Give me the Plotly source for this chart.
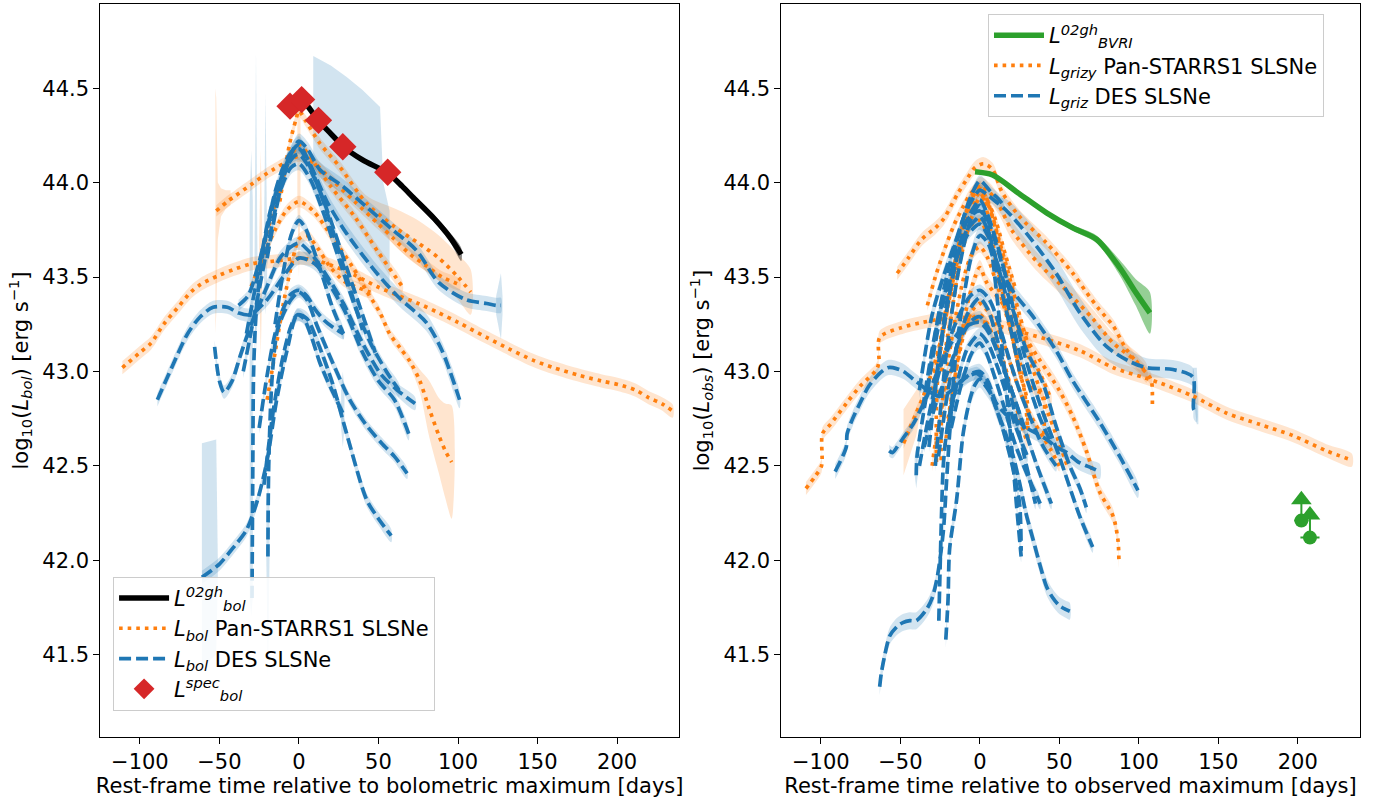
import plotly.graph_objects as go

# ---------------- data : left panel (bolometric) ----------------
x_tick_vals = [-100, -50, 0, 50, 100, 150, 200]
y_tick_vals = [41.5, 42.0, 42.5, 43.0, 43.5, 44.0, 44.5]

sn02gh_bol_t = [-7, 0, 5, 12, 20, 28, 40, 56, 65, 72, 85, 95, 102]
sn02gh_bol_y = [44.43, 44.44, 44.41, 44.33, 44.26, 44.19, 44.12, 44.05, 43.98, 43.92, 43.81, 43.71, 43.62]
sn02gh_bol_err = [0.01, 0.01, 0.01, 0.01, 0.01, 0.01, 0.01, 0.01, 0.012, 0.015, 0.02, 0.025, 0.035]

spec_t = [-5.6, 1.7, 12.3, 27.6, 55.8]
spec_y = [44.405, 44.44, 44.33, 44.19, 44.055]

ps1_bol_t = [
    [-111, -100, -93, -85, -76, -68, -62, -50, -41, -30, -20, -10, 0, 10, 21, 35, 49, 63, 75, 88, 100, 118, 132, 147, 160, 176, 190, 201, 212, 220, 228, 235],
    [-52, -45, -40, -30, -20, -16, -8, 0, 10, 20, 35, 50, 60, 70, 80, 90, 101],
    [-12, -6, -2, 0, 4, 13, 26, 42.6, 61, 75, 88, 100, 108],
    [-30, -22, -15, -8, 0, 9, 21, 34, 43, 51, 57, 64, 70, 76, 82, 88, 92, 96],
    [-25, -18, -12, -6, 0, 6, 10, 20, 35, 50, 65],
    [-20, -15, -10, -5, 0, 5, 12, 20, 28, 35, 45],
]
ps1_bol_y = [
    [43.02, 43.1, 43.15, 43.25, 43.34, 43.42, 43.46, 43.51, 43.54, 43.57, 43.58, 43.59, 43.6, 43.59, 43.56, 43.51, 43.45, 43.4, 43.36, 43.31, 43.26, 43.18, 43.12, 43.06, 43.02, 42.98, 42.95, 42.93, 42.9, 42.86, 42.83, 42.79],
    [43.85, 43.9, 43.93, 43.99, 44.05, 44.07, 44.11, 44.14, 44.1, 44.02, 43.9, 43.78, 43.7, 43.62, 43.56, 43.5, 43.46],
    [43.9, 44.2, 44.33, 44.38, 44.33, 44.21, 44.08, 43.89, 43.76, 43.68, 43.6, 43.5, 43.42],
    [43.45, 43.62, 43.75, 43.85, 43.9, 43.85, 43.71, 43.55, 43.42, 43.31, 43.2, 43.12, 43.05, 42.95, 42.8, 42.66, 42.58, 42.52],
    [43.55, 43.8, 43.97, 44.12, 44.2, 44.15, 44.1, 43.98, 43.82, 43.63, 43.45],
    [42.85, 43.1, 43.35, 43.55, 43.7, 43.72, 43.65, 43.55, 43.48, 43.45, 43.42],
]
ps1_bol_err = [
    0.035,
    0.03,
    [0.03, 0.03, 0.03, 0.03, 0.03, 0.03, 0.03, 0.04, 0.1, 0.12, 0.12, 0.12, 0.12],
    [0.03, 0.03, 0.03, 0.03, 0.03, 0.03, 0.03, 0.03, 0.03, 0.03, 0.03, 0.03, 0.03, 0.06, 0.15, 0.2, 0.25, 0.3],
    0.03,
    0.03,
]
ps1_bol_xb_t = [[-52.5, -52, -51, -49, -46, -43], [-25, -24, -23], [-1, 0, 1]]
ps1_bol_xb_lo = [[43.2, 43.3, 43.7, 43.82, 43.86, 43.88], [43.5, 43.08, 43.5], [43.9, 43.5, 43.9]]
ps1_bol_xb_hi = [[44.5, 44.45, 44.0, 43.97, 43.96, 43.96], [43.7, 44.17, 43.7], [44.35, 44.47, 44.35]]

des_bol_t = [
    [-89, -80, -70, -62, -54, -45, -38, -31, -20, -10, 0, 10, 20, 30, 40, 50, 60, 69],
    [-53, -50, -47, -42, -37, -30, -20, -12, -5, 0, 8, 18, 28, 40, 52, 62, 73],
    [-33, -25, -18, -10, -4, 0, 8, 17.6, 30, 49, 63, 80, 90, 101],
    [-20, -12, -5, 0, 6, 13, 27.6, 42.6, 59, 74, 88, 105, 118, 124, 127],
    [-61, -50, -41, -33, -26, -20, -14, -7.5, -1, 5, 12, 21, 30, 42.6, 50, 58],
    [-19.5, -19, -17, -14, -10, -5, 0, 5, 11, 21, 32, 42, 52, 60, 68],
    [-29.5, -29, -28.5, -27, -24, -20, -15, -10, -5, 0, 5, 12, 20, 30, 40],
    [-25, -20, -15, -10, -5, 0, 5, 10, 16, 22, 28],
    [-15, -10, -5, -2, 0, 4, 9, 15, 21, 28],
    [-35, -28, -20, -12, -5, 0, 7, 15, 25, 35, 45, 55, 63],
    [-22, -16, -10, -5, -1, 3, 8, 13, 18, 23, 27.6],
    [-38, -32, -26, -20, -14, -8, -3, 0, 5, 12, 20, 30, 40, 48],
]
des_bol_y = [
    [42.85, 43.02, 43.2, 43.29, 43.34, 43.34, 43.31, 43.3, 43.38, 43.5, 43.6, 43.57, 43.45, 43.3, 43.1, 42.95, 42.85, 42.67],
    [43.13, 42.95, 42.89, 42.95, 43.08, 43.25, 43.45, 43.6, 43.66, 43.68, 43.62, 43.5, 43.36, 43.15, 42.98, 42.9, 42.83],
    [43.2, 43.55, 43.85, 44.05, 44.17, 44.2, 44.08, 43.9, 43.73, 43.52, 43.39, 43.26, 43.11, 42.85],
    [43.6, 43.95, 44.15, 44.22, 44.17, 44.07, 43.98, 43.87, 43.75, 43.64, 43.47, 43.38, 43.36, 43.35, 43.35],
    [41.91, 41.98, 42.07, 42.16, 42.32, 42.53, 42.85, 43.11, 43.3, 43.28, 43.15, 42.94, 42.67, 42.32, 42.22, 42.13],
    [42.02, 42.5, 42.95, 43.2, 43.3, 43.38, 43.42, 43.38, 43.25, 43.05, 42.85, 42.72, 42.62, 42.55, 42.46],
    [41.8, 42.5, 43.0, 43.3, 43.55, 43.75, 43.95, 44.08, 44.16, 44.18, 44.12, 43.98, 43.78, 43.5, 43.22],
    [42.7, 42.98, 43.2, 43.33, 43.41, 43.43, 43.4, 43.33, 43.27, 43.23, 43.2],
    [43.25, 43.52, 43.72, 43.78, 43.8, 43.76, 43.65, 43.5, 43.34, 43.2],
    [43.0, 43.3, 43.65, 43.95, 44.08, 44.1, 44.02, 43.85, 43.6, 43.35, 43.15, 43.0, 42.9],
    [42.4, 42.8, 43.08, 43.24, 43.3, 43.28, 43.18, 43.05, 42.95, 42.86, 42.78],
    [43.35, 43.4, 43.55, 43.75, 43.95, 44.08, 44.14, 44.15, 44.1, 43.98, 43.8, 43.55, 43.3, 43.1],
]
des_bol_err = [0.035, 0.035, 0.045, 0.04, 0.035, 0.03, 0.03, 0.03, 0.03, 0.035, 0.03, 0.03]
des_bol_xb_t = [[9, 20, 30, 40, 51, 53, 57], [-61, -56, -52, -51], [-28, -27, -26], [-22, -21, -20],
                [-20.5, -19.5, -18.5], [-31, -30, -29], [124, 127, 128], [26.5, 27.6, 28.6]]
des_bol_xb_lo = [[43.95, 43.85, 43.72, 43.6, 43.5, 43.47, 43.45], [41.45, 41.47, 41.5, 41.88], [43.3, 43.1, 43.3],
                 [43.5, 43.3, 43.5], [42.0, 41.37, 42.0], [41.8, 41.7, 41.8], [43.3, 43.17, 43.3], [42.7, 42.6, 42.7]]
des_bol_xb_hi = [[44.67, 44.62, 44.56, 44.49, 44.4, 44.0, 43.85], [42.62, 42.63, 42.64, 42.0], [43.5, 44.69, 43.5],
                 [43.7, 44.47, 43.7], [42.3, 42.4, 42.3], [43.9, 44.17, 43.9], [43.4, 43.52, 43.4], [42.9, 43.0, 42.9]]

# ---------------- data : right panel (observed) ----------------
sn02gh_bvri_t = [-3, 8, 25, 42, 58.5, 73.4, 88, 98, 107]
sn02gh_bvri_y = [44.057, 44.04, 43.94, 43.84, 43.76, 43.7, 43.55, 43.42, 43.31]
sn02gh_bvri_err = [0.01, 0.01, 0.01, 0.01, 0.015, 0.02, 0.04, 0.07, 0.11]

late_t = [202.3, 207.7]
late_y = [42.21, 42.12]
late_up = [0.11, 0.12]
late_xerr = [4.5, 6.0]

ps1_obs_t = [
    [-109.4, -104, -99.6, -99, -94, -84, -75.5, -65, -63.5, -63, -50, -36, -21, -2, 21, 42, 63, 84, 102.5, 113, 134, 155, 176, 197, 218, 234],
    [-52, -45, -36.5, -28, -22.6, -14, -8, -3, 2.5, 8, 14, 25, 42, 58.5, 67, 75, 84, 92, 100.6, 106, 108, 108.5],
    [-30, -22, -15, -8, 0, 6, 12, 20, 36, 52, 71, 84, 99, 105],
    [-22, -15, -8, -3, 0, 4.4, 17, 27, 37.7, 50, 58.5, 67, 75.5, 83, 85, 87, 87.5],
    [-27.3, -27, -24, -20, -15, -10, -5, 0, 5, 10, 15, 20, 25, 29.7, 30],
    [-24.3, -24, -20, -15, -10, -5, 0, 5, 10, 15, 20, 25, 30, 35, 39.7, 40],
    [-20, -15, -10, -5, 0, 5, 10, 15, 20, 25, 30, 35, 40, 45, 50],
    [-24, -18, -12, -5, 0, 4, 8, 12, 18, 25, 32, 40, 45],
    [-48, -44, -40, -35, -30, -25, -20, -15, -10, -5, 0, 5, 10, 15, 20, 30, 40, 50, 55],
    [-30, -28, -25, -20, -15, -10, -5, 0, 5, 10, 15, 20, 25, 30],
    [-18, -12, -6, 0, 3, 6, 10, 15, 20, 25, 28, 30],
    [-33, -28, -22, -16, -10, -5, 0, 5, 10, 16, 22],
]
ps1_obs_y = [
    [42.38, 42.44, 42.5, 42.67, 42.72, 42.83, 42.92, 43.01, 43.05, 43.18, 43.23, 43.26, 43.28, 43.27, 43.22, 43.17, 43.11, 43.02, 42.97, 42.94, 42.87, 42.78, 42.72, 42.66, 42.58, 42.53],
    [43.52, 43.6, 43.7, 43.76, 43.81, 43.94, 44.02, 44.08, 44.1, 44.07, 43.95, 43.82, 43.68, 43.52, 43.42, 43.33, 43.24, 43.12, 43.03, 42.98, 42.95, 42.8],
    [42.9, 43.3, 43.6, 43.85, 43.98, 43.95, 43.88, 43.75, 43.58, 43.45, 43.28, 43.15, 43.05, 42.99],
    [42.6, 43.0, 43.35, 43.5, 43.55, 43.47, 43.33, 43.2, 43.06, 42.9, 42.76, 42.58, 42.36, 42.25, 42.2, 42.1, 42.0],
    [42.52, 42.9, 43.15, 43.35, 43.55, 43.7, 43.78, 43.8, 43.72, 43.58, 43.4, 43.2, 43.0, 42.85, 42.62],
    [42.53, 42.8, 43.05, 43.3, 43.5, 43.62, 43.66, 43.6, 43.48, 43.35, 43.2, 43.05, 42.95, 42.9, 42.88, 42.65],
    [42.75, 43.0, 43.2, 43.32, 43.36, 43.32, 43.25, 43.15, 43.02, 42.9, 42.8, 42.72, 42.65, 42.58, 42.5],
    [43.0, 43.3, 43.6, 43.82, 43.92, 43.9, 43.82, 43.7, 43.52, 43.3, 43.1, 42.95, 42.85],
    [42.62, 42.7, 42.78, 42.88, 43.0, 43.15, 43.35, 43.6, 43.8, 43.93, 43.98, 43.9, 43.75, 43.58, 43.4, 43.1, 42.85, 42.62, 42.5],
    [42.5, 42.62, 42.75, 42.95, 43.1, 43.22, 43.28, 43.3, 43.25, 43.15, 43.05, 42.9, 42.75, 42.62],
    [43.4, 43.7, 43.85, 43.95, 43.9, 43.78, 43.6, 43.4, 43.2, 43.0, 42.9, 42.7],
    [43.35, 43.5, 43.65, 43.78, 43.88, 43.95, 43.97, 43.9, 43.8, 43.62, 43.45],
]
ps1_obs_err = [0.035, 0.035, 0.05, 0.04, 0.03, 0.03, 0.03, 0.03, 0.03, 0.03, 0.03, 0.03]
ps1_obs_xb_t = [[-48, -44, -40, -37]]
ps1_obs_xb_lo = [[42.45, 42.55, 42.66, 42.8]]
ps1_obs_xb_hi = [[42.8, 42.85, 42.9, 42.95]]

des_obs_t = [
    [-33, -26, -18, -10, -4, 0, 4, 10, 17, 31.4, 48, 63, 80, 95, 105, 121.5, 134, 134.5, 136.5],
    [-30, -22, -14, -6, 0, 3, 7, 11, 15],
    [-38, -30, -21, -12, -5, 0, 5, 10, 19, 33.5, 48, 58.5, 75.5, 88, 99.5],
    [-36, -27, -17, -8, 0, 5, 10, 18, 29.5, 39.6, 48, 56.6, 63, 67],
    [-32, -25, -17, -9, -3, 0, 4, 10, 18, 26, 37.7, 50, 63, 71],
    [-28, -21, -13, -5, 0, 4, 8, 12, 16, 20, 23, 26],
    [-63, -62, -60, -56.6, -52, -48.4, -44, -40, -33.5, -30, -27, -23, -21, -19, -15, -10, -5, 0, 5, 10, 15, 20, 25],
    [-40, -39.5, -36, -32, -28, -22, -15, -8, -3, 0, 5, 10, 15, 22, 30, 38, 45],
    [-38, -30, -22, -14, -6, 0, 6, 12, 18, 25, 32, 40, 48],
    [-26, -20, -14, -8, -3, 0, 5, 10, 16, 22, 28, 35],
    [-35, -28, -20, -12, -5, 0, 6, 12, 20, 28, 36, 45],
    [-57, -55, -52, -48, -42, -36, -30, -24, -18, -12, -6, 0, 6, 12, 20, 28],
    [-20, -14, -8, -3, 0, 5, 10, 16, 22, 30],
    [-18, -12, -6, -2, 0, 4, 9, 15, 22, 30, 38],
    [-91, -88, -84, -83.5, -80, -75.5, -70, -63, -58, -54.7, -48, -42, -36, -31.4, -26, -21, -15, -10, -5, 0, 5, 10.5, 18, 25, 29.5, 36, 42, 48, 54.7, 62, 70, 75.5],
    [-25.8, -24, -23, -21, -17, -12, -6, -2, 0, 3, 7, 10.5, 15, 21, 25, 26],
    [-21.4, -20, -19, -14.6, -10.5, -6.3, -3, 0, 3, 7, 10.5, 15, 21, 25, 29, 33.5, 38, 42, 46, 50, 54, 56.6],
]
des_obs_y = [
    [42.9, 43.3, 43.6, 43.82, 43.92, 43.96, 43.94, 43.9, 43.85, 43.71, 43.52, 43.31, 43.13, 43.05, 43.02, 43.01, 42.97, 42.8, 42.78],
    [42.8, 43.3, 43.7, 43.92, 44.01, 43.99, 43.95, 43.92, 43.88],
    [42.9, 43.3, 43.55, 43.75, 43.83, 43.85, 43.8, 43.68, 43.45, 43.29, 43.11, 42.95, 42.73, 42.55, 42.37],
    [42.8, 43.25, 43.55, 43.72, 43.78, 43.72, 43.6, 43.4, 43.11, 42.94, 42.71, 42.5, 42.38, 42.28],
    [42.6, 43.1, 43.5, 43.78, 43.88, 43.91, 43.85, 43.7, 43.45, 43.15, 42.83, 42.55, 42.23, 42.07],
    [42.5, 43.1, 43.55, 43.82, 43.88, 43.8, 43.6, 43.3, 42.95, 42.6, 42.3, 42.02],
    [41.33, 41.4, 41.49, 41.6, 41.65, 41.67, 41.68, 41.68, 41.74, 41.8, 41.9, 42.15, 42.41, 42.67, 43.1, 43.4, 43.62, 43.72, 43.68, 43.55, 43.38, 43.2, 43.0],
    [42.45, 42.55, 42.75, 42.95, 43.15, 43.4, 43.6, 43.75, 43.8, 43.82, 43.75, 43.6, 43.45, 43.2, 42.95, 42.75, 42.62],
    [42.5, 42.85, 43.1, 43.28, 43.4, 43.43, 43.38, 43.25, 43.08, 42.9, 42.75, 42.6, 42.5],
    [42.55, 42.9, 43.15, 43.3, 43.37, 43.39, 43.33, 43.2, 43.0, 42.78, 42.55, 42.3],
    [42.6, 42.82, 43.0, 43.18, 43.27, 43.29, 43.22, 43.08, 42.9, 42.7, 42.5, 42.3],
    [42.58, 42.57, 42.6, 42.65, 42.72, 42.82, 42.93, 43.05, 43.15, 43.22, 43.25, 43.26, 43.2, 43.08, 42.9, 42.7],
    [42.7, 42.95, 43.12, 43.18, 43.2, 43.15, 43.05, 42.9, 42.72, 42.55],
    [42.7, 42.92, 43.08, 43.14, 43.15, 43.1, 42.98, 42.82, 42.62, 42.45, 42.3],
    [42.47, 42.52, 42.6, 42.67, 42.75, 42.83, 42.92, 42.99, 43.02, 43.02, 43.0, 42.96, 42.92, 42.89, 42.87, 42.88, 42.92, 42.96, 42.99, 43.0, 42.95, 42.83, 42.76, 42.73, 42.7, 42.67, 42.64, 42.6, 42.57, 42.52, 42.49, 42.47],
    [41.68, 42.27, 42.5, 42.67, 42.85, 42.95, 42.98, 42.99, 42.98, 42.95, 42.88, 42.8, 42.68, 42.48, 42.3, 42.05],
    [41.58, 41.79, 42.06, 42.32, 42.67, 42.85, 42.93, 42.96, 42.93, 42.88, 42.8, 42.7, 42.55, 42.41, 42.25, 42.11, 41.97, 41.86, 41.8, 41.76, 41.74, 41.73],
]
des_obs_err = [
    [0.03, 0.03, 0.03, 0.03, 0.03, 0.03, 0.03, 0.03, 0.06, 0.08, 0.08, 0.08, 0.07, 0.06, 0.05, 0.05, 0.05, 0.05, 0.05],
    0.03, 0.04, 0.03, 0.03, 0.03, 0.045, 0.03, 0.03, 0.03, 0.03, 0.03, 0.03, 0.03, 0.04, 0.035, 0.045,
]
des_obs_xb_t = [[134, 136.5, 137.5], [-41, -40, -39]]
des_obs_xb_lo = [[42.9, 42.72, 42.72], [42.45, 42.38, 42.45]]
des_obs_xb_hi = [[43.02, 43.02, 42.85], [42.55, 42.6, 42.55]]

# ---------------- styling ----------------
BLUE = '#1f77b4'
ORANGE = '#ff7f0e'
GREEN = '#2ca02c'
RED = '#d62728'
BLUE_F = 'rgba(31,119,180,0.2)'
ORANGE_F = 'rgba(255,127,14,0.2)'
GREEN_F = 'rgba(44,160,44,0.5)'
BLACK_F = 'rgba(0,0,0,0.45)'
DASH = '12px,5px'
DOT = '3.6px,5px'
LW = 3.7
FONT = 'DejaVu Sans'

fig = go.Figure()


def errs(err, n):
    return list(err) if isinstance(err, (list, tuple)) else [err] * n


def add_band(t, y, err, color, xa, ya):
    e = errs(err, len(t))
    hi = [a + b for a, b in zip(y, e)]
    lo = [a - b for a, b in zip(y, e)]
    fig.add_trace(go.Scatter(x=list(t) + list(t)[::-1], y=hi + lo[::-1], mode='lines',
                             line=dict(width=0, shape='spline', smoothing=0.8), fill='toself',
                             fillcolor=color, hoverinfo='skip', showlegend=False,
                             xaxis=xa, yaxis=ya))


def add_xband(t, lo, hi, color, xa, ya):
    fig.add_trace(go.Scatter(x=list(t) + list(t)[::-1], y=list(hi) + list(lo)[::-1], mode='lines',
                             line=dict(width=0), fill='toself', fillcolor=color,
                             hoverinfo='skip', showlegend=False, xaxis=xa, yaxis=ya))


def add_line(t, y, color, width, dash, xa, ya, name=None, legend='legend', rank=1000):
    kw = dict(name=name) if name else {}
    fig.add_trace(go.Scatter(x=t, y=y, mode='lines',
                             line=dict(color=color, width=width, dash=dash, shape='spline', smoothing=0.8),
                             showlegend=name is not None,
                             legend=legend, legendrank=rank, hoverinfo='skip',
                             xaxis=xa, yaxis=ya, **kw))


# ---- left panel ----
for t, y, e in zip(ps1_bol_t, ps1_bol_y, ps1_bol_err):
    add_band(t, y, e, ORANGE_F, 'x', 'y')
for t, lo, hi in zip(ps1_bol_xb_t, ps1_bol_xb_lo, ps1_bol_xb_hi):
    add_xband(t, lo, hi, ORANGE_F, 'x', 'y')
for t, y, e in zip(des_bol_t, des_bol_y, des_bol_err):
    add_band(t, y, e, BLUE_F, 'x', 'y')
for t, lo, hi in zip(des_bol_xb_t, des_bol_xb_lo, des_bol_xb_hi):
    add_xband(t, lo, hi, BLUE_F, 'x', 'y')
add_band(sn02gh_bol_t, sn02gh_bol_y, sn02gh_bol_err, BLACK_F, 'x', 'y')

for i, (t, y) in enumerate(zip(ps1_bol_t, ps1_bol_y)):
    add_line(t, y, ORANGE, LW, DOT, 'x', 'y',
             name='<i>L<sub>bol</sub></i> Pan-STARRS1 SLSNe' if i == 0 else None, rank=2)
for i, (t, y) in enumerate(zip(des_bol_t, des_bol_y)):
    add_line(t, y, BLUE, LW, DASH, 'x', 'y',
             name='<i>L<sub>bol</sub></i> DES SLSNe' if i == 0 else None, rank=3)
add_line(sn02gh_bol_t, sn02gh_bol_y, 'black', 5.5, 'solid', 'x', 'y',
         name='<i>L</i><sup><i>02gh</i></sup><sub><i>bol</i></sub>', rank=1)
fig.add_trace(go.Scatter(x=spec_t, y=spec_y, mode='markers',
                         marker=dict(symbol='diamond', size=21, color=RED),
                         name='<i>L</i><sup><i>spec</i></sup><sub><i>bol</i></sub>',
                         legend='legend', legendrank=4, hoverinfo='skip', xaxis='x', yaxis='y'))

# ---- right panel ----
for t, y, e in zip(ps1_obs_t, ps1_obs_y, ps1_obs_err):
    add_band(t, y, e, ORANGE_F, 'x2', 'y2')
for t, lo, hi in zip(ps1_obs_xb_t, ps1_obs_xb_lo, ps1_obs_xb_hi):
    add_xband(t, lo, hi, ORANGE_F, 'x2', 'y2')
for t, y, e in zip(des_obs_t, des_obs_y, des_obs_err):
    add_band(t, y, e, BLUE_F, 'x2', 'y2')
for t, lo, hi in zip(des_obs_xb_t, des_obs_xb_lo, des_obs_xb_hi):
    add_xband(t, lo, hi, BLUE_F, 'x2', 'y2')
add_band(sn02gh_bvri_t, sn02gh_bvri_y, sn02gh_bvri_err, GREEN_F, 'x2', 'y2')

for i, (t, y) in enumerate(zip(ps1_obs_t, ps1_obs_y)):
    add_line(t, y, ORANGE, LW, DOT, 'x2', 'y2',
             name='<i>L<sub>grizy</sub></i> Pan-STARRS1 SLSNe' if i == 0 else None,
             legend='legend2', rank=2)
for i, (t, y) in enumerate(zip(des_obs_t, des_obs_y)):
    add_line(t, y, BLUE, LW, DASH, 'x2', 'y2',
             name='<i>L<sub>griz</sub></i> DES SLSNe' if i == 0 else None,
             legend='legend2', rank=3)
add_line(sn02gh_bvri_t, sn02gh_bvri_y, GREEN, 5.5, 'solid', 'x2', 'y2',
         name='<i>L</i><sup><i>02gh</i></sup><sub><i>BVRI</i></sub>', legend='legend2', rank=1)

fig.add_trace(go.Scatter(x=late_t, y=late_y, mode='markers',
                         marker=dict(symbol='circle', size=14, color=GREEN),
                         error_y=dict(type='data', symmetric=False, array=late_up,
                                      arrayminus=[0] * len(late_up), color=GREEN, thickness=2, width=0),
                         error_x=dict(type='data', array=late_xerr, color=GREEN, thickness=2, width=0),
                         showlegend=False, hoverinfo='skip', xaxis='x2', yaxis='y2'))
fig.add_trace(go.Scatter(x=late_t, y=[a + b for a, b in zip(late_y, late_up)], mode='markers',
                         marker=dict(symbol='triangle-up', size=18, color=GREEN),
                         showlegend=False, hoverinfo='skip', xaxis='x2', yaxis='y2'))

# ---------------- layout ----------------
axis_common = dict(showline=True, mirror=True, linecolor='black', linewidth=1.2,
                   ticks='outside', ticklen=6, tickwidth=1.2, tickcolor='black',
                   showgrid=False, zeroline=False, automargin=False,
                   tickfont=dict(family=FONT, size=21, color='black'))
xr = [-124.8, 238.9]
yr = [41.064, 44.946]
ytickt = ['%.1f' % v for v in y_tick_vals]

fig.update_layout(
    width=1389, height=800,
    margin=dict(l=0, r=0, t=0, b=0),
    paper_bgcolor='white', plot_bgcolor='white',
    font=dict(family=FONT, size=21, color='black'),
    xaxis=dict(domain=[0.0723, 0.4888], range=xr, anchor='y', tickvals=x_tick_vals,
               title=dict(text='Rest-frame time relative to bolometric maximum [days]',
                          font=dict(family=FONT, size=21), standoff=4), **axis_common),
    yaxis=dict(domain=[0.07875, 0.995], range=yr, anchor='x', tickvals=y_tick_vals, ticktext=ytickt,
               title=dict(text='log<sub>10</sub>(<i>L<sub>bol</sub></i>) [erg s<sup>−1</sup>]',
                          font=dict(family=FONT, size=21), standoff=8), **axis_common),
    xaxis2=dict(domain=[0.5626, 0.9788], range=xr, anchor='y2', tickvals=x_tick_vals,
                title=dict(text='Rest-frame time relative to observed maximum [days]',
                           font=dict(family=FONT, size=21), standoff=4), **axis_common),
    yaxis2=dict(domain=[0.07875, 0.995], range=yr, anchor='x2', tickvals=y_tick_vals, ticktext=ytickt,
                title=dict(text='log<sub>10</sub>(<i>L<sub>obs</sub></i>) [erg s<sup>−1</sup>]',
                           font=dict(family=FONT, size=21), standoff=8), **axis_common),
    legend=dict(x=0.0814, y=0.279, xanchor='left', yanchor='top', bgcolor='rgba(255,255,255,0.85)',
                bordercolor='#cccccc', borderwidth=1, itemwidth=50, traceorder='normal',
                font=dict(family=FONT, size=21, color='black')),
    legend2=dict(x=0.7113, y=0.9825, xanchor='left', yanchor='top', bgcolor='rgba(255,255,255,0.85)',
                 bordercolor='#cccccc', borderwidth=1, itemwidth=50, traceorder='normal',
                 font=dict(family=FONT, size=21, color='black')),
)

fig.write_html('out.html')
